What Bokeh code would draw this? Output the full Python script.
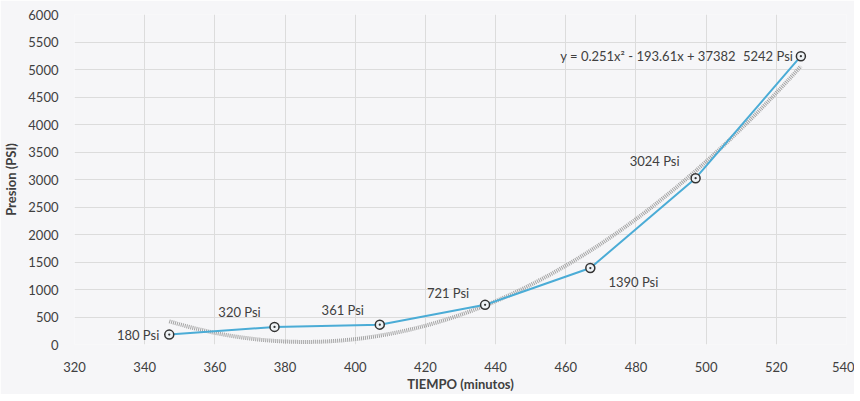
import numpy as np
from bokeh.plotting import figure
from bokeh.models import ColumnDataSource, FixedTicker, Label
from bokeh.embed import file_html
from bokeh.resources import INLINE

# ---- data ----
tiempo = [347, 377, 407, 437, 467, 497, 527]
presion = [180, 320, 361, 721, 1390, 3024, 5242]
etiquetas = ["180 Psi", "320 Psi", "361 Psi", "721 Psi", "1390 Psi", "3024 Psi", "5242 Psi"]
trend_coef = [0.251, -193.61, 37382]  # Excel polynomial trendline (order 2)
equation = "y = 0.251x\u00b2 - 193.61x + 37382"
x_ticks = list(range(320, 541, 20))
y_ticks = list(range(0, 6001, 500))

# ---- label layout (styles, not data) ----
lab_dx = [-10, -35, -37, -37, 43, -41, -8]
lab_dy = [0, 15, 15, 12, -14, 17, 0]
lab_align = ["right", "center", "center", "center", "center", "center", "right"]

FONT = "Lato"
TXT = "#404040"

p = figure(frame_width=772, frame_height=330, x_range=(320, 540), y_range=(0, 6000),
           output_backend="svg", toolbar_location=None,
           min_border_left=64, min_border_right=8, min_border_top=14, min_border_bottom=41)
p.background_fill_color = "#f6f6f8"
p.border_fill_color = "#f6f6f8"
p.outline_line_color = None

p.xaxis.ticker = FixedTicker(ticks=x_ticks)
p.yaxis.ticker = FixedTicker(ticks=y_ticks)
for ax in (p.xaxis, p.yaxis):
    ax.axis_line_color = None
    ax.major_tick_line_color = None
    ax.minor_tick_line_color = None
    ax.major_label_text_font = FONT
    ax.major_label_text_font_size = "13px"
    ax.major_label_text_color = TXT
    ax.axis_label_text_font = FONT
    ax.axis_label_text_font_size = "13px"
    ax.axis_label_text_font_style = "bold"
    ax.axis_label_text_color = TXT
p.xaxis.axis_label = "TIEMPO (minutos)"
p.yaxis.axis_label = "Presion (PSI)"
p.xaxis.major_label_standoff = 11
p.xaxis.axis_label_standoff = 1
p.yaxis.major_label_standoff = 10
p.yaxis.axis_label_standoff = 6
p.xgrid.grid_line_color = "#dcdcdc"
p.ygrid.grid_line_color = "#dcdcdc"

# trendline from the chart's own equation
tx = np.linspace(tiempo[0], tiempo[-1], 200)
ty = np.polyval(trend_coef, tx)
p.line(tx, ty, line_color="#9a9a9a", line_width=4, line_dash="1 1", line_alpha=0.9)

src = ColumnDataSource(dict(x=tiempo, y=presion))
p.line("x", "y", source=src, line_color="#4bacd6", line_width=2)
p.scatter("x", "y", source=src, marker="circle_dot", size=9,
          line_color="#333333", line_width=1.5, fill_color="#eef2f5")

for xv, yv, t, dx, dy, al in zip(tiempo, presion, etiquetas, lab_dx, lab_dy, lab_align):
    p.add_layout(Label(x=xv, y=yv, text=t, x_offset=dx, y_offset=dy,
                       text_align=al, text_baseline="middle",
                       text_font=FONT, text_font_size="13px", text_color=TXT))

p.add_layout(Label(x=tiempo[-1], y=presion[-1], text=equation, x_offset=-65, y_offset=0,
                   text_align="right", text_baseline="middle",
                   text_font=FONT, text_font_size="13px", text_color=TXT))

open("out.html", "w").write(file_html(p, INLINE))
